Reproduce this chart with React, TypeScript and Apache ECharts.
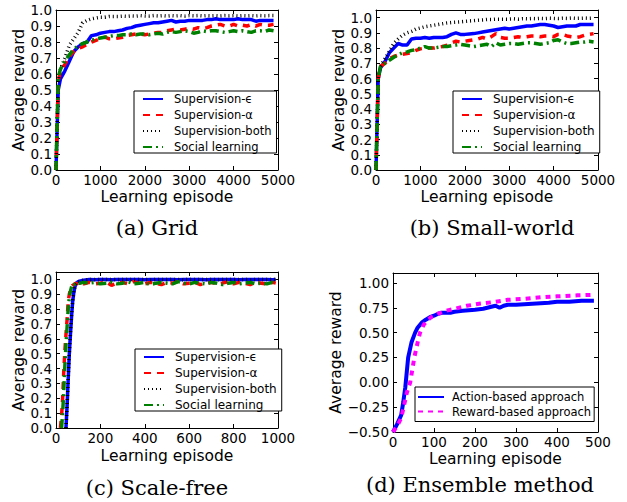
import React, { useEffect, useRef } from "react";
import * as echarts from "echarts";

const NAMES = ["Supervision-\u03f5", "Supervision-\u03b1", "Supervision-both", "Social learning"];
const D_NAMES = ["Action-based approach", "Reward-based approach"];

// (a) Grid and (b) Small-world share the same episode grid
const abX = [0, 50, 100, 200, 300, 400, 500, 600, 700, 800, 900, 1000, 1100, 1200, 1300, 1400, 1500, 1600, 1700, 1800, 1900, 2000, 2100, 2200, 2300, 2400, 2500, 2600, 2700, 2800, 2900, 3000, 3100, 3200, 3300, 3400, 3500, 3600, 3700, 3800, 3900, 4000, 4100, 4200, 4300, 4400, 4500, 4600, 4700, 4800, 4900];

const aEps = [0, 0.5, 0.57, 0.62, 0.68, 0.74, 0.77, 0.79, 0.8, 0.84, 0.845, 0.855, 0.86, 0.865, 0.865, 0.87, 0.875, 0.885, 0.89, 0.9, 0.905, 0.91, 0.915, 0.92, 0.92, 0.925, 0.93, 0.935, 0.925, 0.93, 0.93, 0.935, 0.935, 0.935, 0.935, 0.94, 0.94, 0.945, 0.94, 0.94, 0.94, 0.94, 0.945, 0.94, 0.94, 0.94, 0.93, 0.935, 0.935, 0.935, 0.935];
const aAlpha = [0, 0.55, 0.62, 0.66, 0.71, 0.74, 0.76, 0.77, 0.785, 0.8, 0.81, 0.82, 0.83, 0.82, 0.82, 0.825, 0.83, 0.84, 0.845, 0.85, 0.85, 0.845, 0.85, 0.855, 0.86, 0.86, 0.87, 0.875, 0.88, 0.875, 0.88, 0.885, 0.88, 0.89, 0.885, 0.89, 0.9, 0.905, 0.91, 0.9, 0.9, 0.91, 0.9, 0.905, 0.9, 0.91, 0.9, 0.91, 0.905, 0.905, 0.91];
const aBoth = [0, 0.55, 0.63, 0.7, 0.78, 0.82, 0.86, 0.92, 0.935, 0.945, 0.95, 0.955, 0.955, 0.96, 0.96, 0.96, 0.962, 0.96, 0.963, 0.962, 0.965, 0.963, 0.962, 0.965, 0.963, 0.965, 0.962, 0.965, 0.963, 0.965, 0.962, 0.965, 0.964, 0.965, 0.963, 0.965, 0.964, 0.965, 0.963, 0.965, 0.964, 0.965, 0.963, 0.965, 0.964, 0.965, 0.963, 0.965, 0.964, 0.965, 0.965];
const aSocial = [0, 0.58, 0.63, 0.68, 0.72, 0.755, 0.775, 0.79, 0.8, 0.81, 0.82, 0.825, 0.83, 0.835, 0.84, 0.84, 0.845, 0.845, 0.85, 0.845, 0.85, 0.85, 0.845, 0.85, 0.855, 0.85, 0.86, 0.865, 0.86, 0.865, 0.87, 0.865, 0.855, 0.86, 0.87, 0.865, 0.87, 0.87, 0.865, 0.86, 0.865, 0.87, 0.865, 0.87, 0.865, 0.86, 0.87, 0.87, 0.865, 0.875, 0.87];

const bEps = [0, 0.6, 0.67, 0.71, 0.77, 0.8, 0.83, 0.82, 0.82, 0.86, 0.865, 0.865, 0.87, 0.865, 0.87, 0.87, 0.87, 0.875, 0.89, 0.9, 0.89, 0.89, 0.893, 0.895, 0.9, 0.905, 0.91, 0.915, 0.92, 0.925, 0.93, 0.925, 0.93, 0.935, 0.94, 0.945, 0.945, 0.95, 0.955, 0.955, 0.95, 0.945, 0.935, 0.94, 0.945, 0.945, 0.945, 0.955, 0.955, 0.955, 0.955];
const bAlpha = [0, 0.6, 0.68, 0.7, 0.73, 0.745, 0.755, 0.76, 0.765, 0.77, 0.785, 0.795, 0.8, 0.8, 0.8, 0.805, 0.81, 0.82, 0.835, 0.845, 0.84, 0.845, 0.85, 0.855, 0.86, 0.87, 0.86, 0.875, 0.895, 0.87, 0.865, 0.865, 0.87, 0.875, 0.87, 0.875, 0.88, 0.88, 0.875, 0.88, 0.88, 0.875, 0.89, 0.89, 0.88, 0.875, 0.87, 0.875, 0.885, 0.89, 0.895];
const bBoth = [0, 0.6, 0.68, 0.73, 0.78, 0.83, 0.86, 0.885, 0.9, 0.91, 0.925, 0.932, 0.94, 0.945, 0.95, 0.955, 0.96, 0.965, 0.968, 0.97, 0.972, 0.975, 0.978, 0.98, 0.983, 0.985, 0.988, 0.988, 0.99, 0.99, 0.99, 0.99, 0.992, 0.99, 0.993, 0.992, 0.994, 0.993, 0.995, 0.994, 0.996, 0.995, 0.994, 0.996, 0.995, 0.997, 0.995, 0.996, 0.997, 0.996, 0.997];
const bSocial = [0, 0.6, 0.68, 0.7, 0.72, 0.74, 0.755, 0.77, 0.775, 0.785, 0.79, 0.8, 0.81, 0.8, 0.8, 0.805, 0.81, 0.81, 0.815, 0.82, 0.825, 0.82, 0.815, 0.81, 0.815, 0.82, 0.825, 0.81, 0.835, 0.82, 0.825, 0.83, 0.83, 0.825, 0.83, 0.835, 0.835, 0.83, 0.825, 0.83, 0.835, 0.85, 0.855, 0.84, 0.83, 0.83, 0.835, 0.84, 0.84, 0.845, 0.84];

// (c) Scale-free
const cX = [20, 25, 30, 35, 40, 45, 50, 55, 60, 65, 70, 75, 80, 85, 90, 95, 100, 110, 125, 150, 175, 200, 225, 250, 275, 300, 325, 350, 375, 400, 425, 450, 475, 500, 525, 550, 575, 600, 625, 650, 675, 700, 725, 750, 775, 800, 825, 850, 875, 900, 925, 950, 975, 990];
const cEps = [null, null, null, null, null, 0, 0.15, 0.33, 0.5, 0.63, 0.75, 0.85, 0.91, 0.95, 0.97, 0.98, 0.985, 0.99, 0.995, 1.0, 0.998, 1.0, 1.0, 0.998, 1.0, 1.0, 0.999, 1.0, 1.0, 0.998, 1.0, 1.0, 0.999, 1.0, 1.0, 0.998, 1.0, 1.0, 0.999, 1.0, 0.998, 1.0, 1.0, 0.999, 1.0, 1.0, 0.998, 1.0, 1.0, 0.999, 1.0, 1.0, 0.998, 1.0];
const cAlpha = [0, 0.08, 0.2, 0.38, 0.52, 0.63, 0.73, 0.85, 0.9, 0.93, 0.95, 0.96, 0.965, 0.97, 0.975, 0.97, 0.975, 0.98, 0.97, 0.98, 0.97, 0.975, 0.985, 0.96, 0.975, 0.98, 0.97, 0.985, 0.975, 0.97, 0.98, 0.975, 0.965, 0.98, 0.975, 0.985, 0.97, 0.975, 0.98, 0.965, 0.975, 0.98, 0.97, 0.975, 0.985, 0.97, 0.98, 0.975, 0.965, 0.98, 0.975, 0.97, 0.98, 0.975];
const cBoth = [null, null, null, null, null, 0, 0.15, 0.33, 0.5, 0.63, 0.75, 0.85, 0.91, 0.95, 0.97, 0.98, 0.985, 0.99, 0.995, 1.0, 1.0, 0.999, 1.0, 1.0, 0.998, 1.0, 1.0, 0.999, 1.0, 1.0, 0.998, 1.0, 1.0, 0.999, 1.0, 1.0, 0.998, 1.0, 1.0, 0.999, 1.0, 1.0, 0.998, 1.0, 1.0, 0.999, 1.0, 1.0, 0.998, 1.0, 1.0, 0.999, 1.0, 1.0];
const cSocial = [null, 0, 0.1, 0.25, 0.42, 0.56, 0.68, 0.8, 0.88, 0.92, 0.95, 0.97, 0.965, 0.97, 0.975, 0.97, 0.975, 0.975, 0.98, 0.975, 0.98, 0.97, 0.975, 0.98, 0.97, 0.975, 0.985, 0.97, 0.975, 0.98, 0.965, 0.975, 0.98, 0.975, 0.97, 0.985, 0.975, 0.97, 0.98, 0.975, 0.97, 0.98, 0.975, 0.965, 0.975, 0.98, 0.97, 0.975, 0.98, 0.97, 0.975, 0.97, 0.98, 0.975];

// (d) Ensemble method
const dActionX = [0, 10, 20, 25, 30, 37, 45, 54, 60, 70, 80, 90, 100, 110, 120, 140, 150, 170, 200, 220, 240, 250, 260, 270, 280, 300, 340, 380, 400, 430, 460, 490];
const dActionY = [-0.5, -0.42, -0.33, -0.2, -0.05, 0.25, 0.4, 0.5, 0.55, 0.6, 0.63, 0.655, 0.67, 0.69, 0.7, 0.7, 0.71, 0.72, 0.73, 0.74, 0.76, 0.77, 0.75, 0.77, 0.78, 0.78, 0.79, 0.8, 0.81, 0.81, 0.82, 0.82];
const dRewardX = [0, 10, 20, 26, 34, 42, 52, 60, 66, 75, 85, 95, 110, 130, 150, 180, 210, 250, 280, 320, 360, 400, 450, 490];
const dRewardY = [-0.5, -0.44, -0.36, -0.25, -0.1, 0, 0.25, 0.4, 0.5, 0.58, 0.63, 0.66, 0.69, 0.72, 0.74, 0.77, 0.79, 0.81, 0.83, 0.84, 0.855, 0.865, 0.875, 0.88];

const FONT = "DejaVu Sans";
const MINUS = "\u2212";

const pair = (xs: number[], ys: (number | null)[]) =>
  xs.map((x, i) => [x, ys[i] === null ? "-" : ys[i]]);

const STYLES: any[] = [
  { color: "#0000ff", width: 3.5, type: "solid" },
  { color: "#ff0000", width: 3.5, type: [7, 6] },
  { color: "#000000", width: 3.5, type: [1, 3] },
  { color: "#008000", width: 3.5, type: [9, 4, 2, 4] },
];

export default function App() {
  const ref = useRef<HTMLDivElement>(null);
  useEffect(() => {
    const chart = echarts.init(ref.current!, undefined, { renderer: "svg" });

    const grids = [
      { left: 56, top: 10, width: 222, height: 160 },
      { left: 376, top: 10, width: 222, height: 160 },
      { left: 56, top: 272, width: 222, height: 156 },
      { left: 393, top: 273, width: 205, height: 159 },
    ];
    const xs = [
      { min: 0, max: 5000, interval: 1000, gap: 19 },
      { min: 0, max: 5000, interval: 1000, gap: 19 },
      { min: 0, max: 1000, interval: 200, gap: 20 },
      { min: 0, max: 500, interval: 100, gap: 19 },
    ];
    const ys = [
      { min: 0, max: 1.0, interval: 0.1, dec: 1, gap: 26 },
      { min: 0, max: 1.05, interval: 0.1, dec: 1, gap: 26 },
      { min: 0, max: 1.05, interval: 0.1, dec: 1, gap: 28 },
      { min: -0.5, max: 1.1, interval: 0.25, dec: 2, gap: 46 },
    ];

    const axisLine = { show: true, onZero: false, lineStyle: { color: "#000", width: 1 } };
    const axisTick = { show: true, inside: true, length: 4, lineStyle: { color: "#000", width: 1 } };
    const labelStyle = { color: "#000", fontSize: 13.5, fontFamily: FONT };
    const nameStyle = { color: "#000", fontSize: 15.5, fontFamily: FONT };

    const xAxis: any[] = [];
    const yAxis: any[] = [];
    grids.forEach((_, g) => {
      const x = xs[g];
      const y = ys[g];
      xAxis.push({
        type: "value", gridIndex: g, position: "bottom", min: x.min, max: x.max, interval: x.interval,
        axisLine, axisTick, splitLine: { show: false },
        axisLabel: { ...labelStyle, margin: 3, formatter: (v: number) => String(v) },
        name: "Learning episode", nameLocation: "middle", nameGap: x.gap, nameTextStyle: nameStyle,
      });
      xAxis.push({
        type: "value", gridIndex: g, position: "top", min: x.min, max: x.max, interval: x.interval,
        axisLine, axisTick, splitLine: { show: false }, axisLabel: { show: false },
      });
      yAxis.push({
        type: "value", gridIndex: g, position: "left", min: y.min, max: y.max, interval: y.interval,
        axisLine, axisTick, splitLine: { show: false },
        axisLabel: {
          ...labelStyle, margin: 4, showMaxLabel: y.max === 1.0,
          formatter: (v: number) => {
            const s = Math.abs(v).toFixed(y.dec);
            return v < -1e-9 ? MINUS + s : s;
          },
        },
        name: "Average reward", nameLocation: "middle", nameGap: y.gap, nameTextStyle: nameStyle,
      });
      yAxis.push({
        type: "value", gridIndex: g, position: "right", min: y.min, max: y.max, interval: y.interval,
        axisLine, axisTick, splitLine: { show: false }, axisLabel: { show: false },
      });
    });

    const mk = (name: string, g: number, data: any[], style: any) => ({
      type: "line", name, xAxisIndex: g * 2, yAxisIndex: g * 2, data,
      symbol: "none", showSymbol: false, smooth: false, connectNulls: false,
      lineStyle: { ...style }, itemStyle: { color: style.color },
      emphasis: { disabled: true },
    });

    const series: any[] = [];
    [aEps, aAlpha, aBoth, aSocial].forEach((ys2, i) => series.push(mk(NAMES[i], 0, pair(abX, ys2), STYLES[i])));
    [bEps, bAlpha, bBoth, bSocial].forEach((ys2, i) => series.push(mk(NAMES[i], 1, pair(abX, ys2), STYLES[i])));
    [cEps, cAlpha, cBoth, cSocial].forEach((ys2, i) => series.push(mk(NAMES[i], 2, pair(cX, ys2), STYLES[i])));
    series.push(mk(D_NAMES[0], 3, pair(dActionX, dActionY), { color: "#0000ff", width: 4, type: "solid" }));
    series.push(mk(D_NAMES[1], 3, pair(dRewardX, dRewardY), { color: "#ff00ff", width: 4, type: [5, 5] }));

    const textBase = { fontSize: 12, fontFamily: FONT, color: "#000", padding: [0, 0, 0, 6] };
    const legendBase = {
      orient: "vertical", padding: [2, 5, 0, 8], itemWidth: 20, itemHeight: 14, itemGap: 4,
      borderColor: "#000", borderWidth: 1, borderRadius: 0, backgroundColor: "#fff",
      selectedMode: false,
      itemStyle: { opacity: 0, borderWidth: 0 },
      textStyle: textBase,
    };
    const legend = [
      { ...legendBase, left: 134, top: 91, data: NAMES, textStyle: { ...textBase, fontSize: 11.5 } },
      { ...legendBase, left: 453, top: 91, data: NAMES },
      { ...legendBase, left: 135, top: 349, data: NAMES },
      {
        ...legendBase, left: 415, top: 387, data: D_NAMES, padding: [4, 3, 4, 2], itemWidth: 26, itemGap: 2.5,
        textStyle: { ...textBase, fontSize: 11.5, padding: [0, 0, 0, 3] },
      },
    ];

    const capStyle = (text: string, x: number, y: number) => ({
      type: "text", x, y,
      style: { text, fill: "#000", font: "21px 'DejaVu Serif'", textAlign: "center", textVerticalAlign: "middle" },
    });

    chart.setOption({
      animation: false,
      backgroundColor: "#fff",
      grid: grids.map((g) => ({ ...g, containLabel: false })),
      xAxis, yAxis, series, legend,
      graphic: [
        capStyle("(a) Grid", 157, 228),
        capStyle("(b) Small-world", 492, 228),
        capStyle("(c) Scale-free", 157, 488),
        capStyle("(d) Ensemble method", 480, 485),
      ],
    });
    return () => chart.dispose();
  }, []);
  return <div ref={ref} style={{ position: "fixed", left: 0, top: 0, width: 627, height: 502 }} />;
}
